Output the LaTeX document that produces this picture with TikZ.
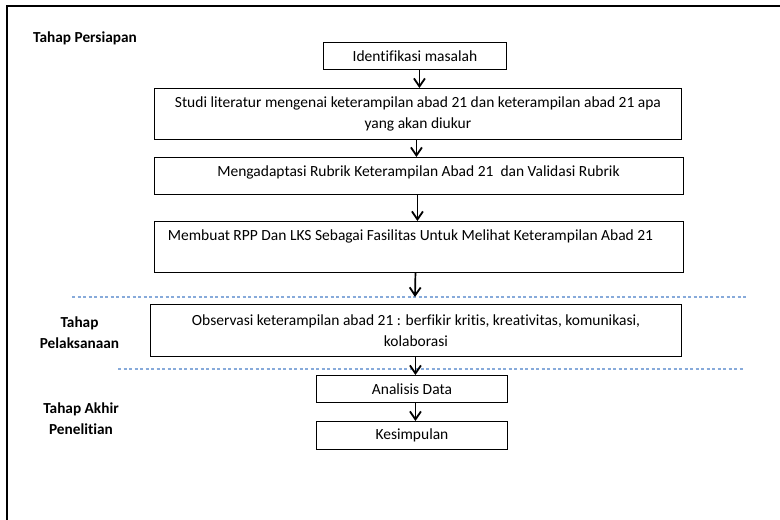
\documentclass[tikz,border=0pt]{standalone}
\usepackage{fontspec}
\setmainfont[Ligatures={NoCommon}]{Carlito}
\usetikzlibrary{arrows.meta}
\definecolor{dashblue}{RGB}{135,170,218}
\begin{document}
\begin{tikzpicture}[x=1pt,y=-1pt,
 box/.style={draw=black, line width=0.9pt, inner sep=0pt, anchor=north west},
 txt/.style={font=\fontsize{15.5}{20.5}\selectfont, align=center, inner sep=0pt},
 lbl/.style={font=\bfseries\fontsize{15.3}{21}\selectfont, align=center, inner sep=0pt},
 arr/.style={-{Straight Barb[length=8pt,width=11pt,line width=1.8pt]}, line width=1.7pt},
 sep/.style={draw=dashblue, dash pattern=on 3pt off 2.5pt, line width=1.1pt}]
\useasboundingbox (0,0) rectangle (780,520);
\fill[white] (0,0) rectangle (780,520);
% outer frame (left and top edges)
\draw[line width=2.5pt] (7,520) -- (7,6) -- (780,6);
% labels
\node[lbl, anchor=west] (l1) at (33,38) {Tahap Persiapan};
\node[lbl] (l2) at (79.5,333) {Tahap\\Pelaksanaan};
\node[lbl] (l3) at (81,418.5) {Tahap Akhir\\Penelitian};
% boxes
\node[box, minimum width=183pt, minimum height=27pt] (b1) at (323,42) {};
\node[txt] (t1) at (b1.center) {Identifikasi masalah};
\node[box, minimum width=527pt, minimum height=51pt] (b2) at (154,88) {};
\node[txt] (t2) at (b2.center) {Studi literatur mengenai keterampilan abad 21 dan keterampilan abad 21 apa\\yang akan diukur};
\node[box, minimum width=529pt, minimum height=37pt] (b3) at (154,157) {};
\node[txt] (t3) at (418.5,172) {Mengadaptasi Rubrik Keterampilan Abad 21~~dan Validasi Rubrik};
\node[box, minimum width=529pt, minimum height=51pt] (b4) at (154,221) {};
\node[txt] (t4) at (410.5,236) {Membuat RPP Dan LKS Sebagai Fasilitas Untuk Melihat Keterampilan Abad 21};
\node[box, minimum width=531pt, minimum height=52pt] (b5) at (150,304) {};
\node[txt] (t5) at (b5.center) {Observasi keterampilan abad 21 : berfikir kritis, kreativitas, komunikasi,\\kolaborasi};
\node[box, minimum width=191pt, minimum height=27pt] (b6) at (316,375) {};
\node[txt] (t6) at (b6.center) {Analisis Data};
\node[box, minimum width=191pt, minimum height=28pt] (b7) at (316,421) {};
\node[txt] (t7) at (b7.center) {Kesimpulan};
% separators
\draw[sep] (72,297) -- (748,297);
\draw[sep] (118,369) -- (743,369);
% arrows
\coordinate (c4) at (415,297);
\draw[arr] ([xshift=4.5pt]b1.south) -- ([xshift=4.5pt]b1.south |- b2.north);
\draw[arr] ([xshift=-1.5pt]b2.south) -- ([xshift=-1.5pt]b2.south |- b3.north);
\draw[arr] ([xshift=-1.5pt]b3.south) -- ([xshift=-1.5pt]b3.south |- b4.north);
\draw[arr] ([xshift=-3.5pt]b4.south) -- (c4);
\draw[arr] ([xshift=-0.5pt]b5.south) -- ([xshift=-0.5pt]b5.south |- b6.north);
\draw[arr] ([xshift=3.5pt]b6.south) -- ([xshift=3.5pt]b6.south |- b7.north);
\end{tikzpicture}
\end{document}
